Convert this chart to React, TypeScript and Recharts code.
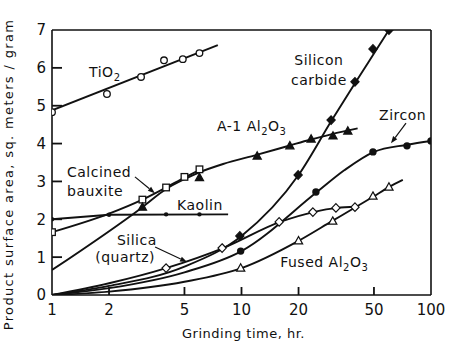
import {
  ComposedChart,
  Line,
  Scatter,
  XAxis,
  YAxis,
  ReferenceLine,
  ReferenceDot,
} from 'recharts';

// grinding time (hr) on a log axis, surface area (m2/g)
const X_TICKS = [1, 2, 5, 10, 20, 50, 100];
const Y_TICKS = [0, 1, 2, 3, 4, 5, 6, 7];

// drawn curves as [t, v]
const tio2Curve = [[1, 4.88], [7.5, 6.6]];
const bauxiteCurve = [[1, 1.66], [2, 2.15], [3, 2.52], [4, 2.84], [5, 3.1], [6, 3.3]];
const a1Curve = [[1, 0.66], [3, 2.32], [4, 2.8], [5, 3.06], [6, 3.24], [8, 3.46], [12, 3.7], [18, 3.95], [23, 4.1], [30, 4.25], [41, 4.4]];
const kaolinCurve = [[1, 2.0], [2, 2.12], [8.5, 2.13]];
const silicaCurve = [[1, 0], [2, 0.31], [4, 0.71], [8, 1.24], [16, 1.93], [24, 2.19], [32, 2.3], [40, 2.33]];
const sicCurve = [[1, 0], [2, 0.24], [5, 0.75], [10, 1.56], [20, 3.17], [30, 4.62], [40, 5.62], [50, 6.38], [60, 7.0]];
const zirconCurve = [[1, 0], [2, 0.18], [5, 0.6], [10, 1.16], [25, 2.72], [35, 3.3], [50, 3.78], [75, 3.97], [100, 4.07]];
const fusedCurve = [[1, 0], [2, 0.09], [5, 0.35], [10, 0.71], [20, 1.43], [30, 1.95], [50, 2.61], [60, 2.85], [71, 3.04]];

// measured points
const tio2Points = [[1, 4.83], [1.95, 5.31], [2.95, 5.76], [3.9, 6.2], [4.9, 6.23], [6, 6.39]];
const bauxitePoints = [[1, 1.66], [3, 2.52], [4, 2.84], [5, 3.12], [6, 3.32]];
const a1Points = [[3, 2.32], [6, 3.1], [12.1, 3.67], [18, 3.94], [23.3, 4.12], [30.4, 4.2], [36.4, 4.33]];
const kaolinPoints = [[1, 2.0], [2, 2.12], [4, 2.13], [6, 2.13]];
const silicaPoints = [[4, 0.71], [7.9, 1.24], [15.8, 1.93], [23.8, 2.19], [31.5, 2.3], [39.7, 2.32]];
const sicPoints = [[9.8, 1.56], [19.9, 3.17], [29.7, 4.62], [39.7, 5.63], [49.4, 6.5], [60, 7.0]];
const zirconPoints = [[9.9, 1.16], [24.7, 2.72], [49.4, 3.78], [74.7, 3.94], [100, 4.07]];
const fusedPoints = [[9.9, 0.71], [20, 1.43], [30.3, 1.95], [49.4, 2.61], [60, 2.85]];

// curve labels: [t, v, text, anchor]  ("_" = subscript)
const notes: [number, number, string, string][] = [
  [1.57, 5.76, 'TiO_2', 'start'],
  [25.6, 6.07, 'Silicon', 'middle'],
  [25.6, 5.55, 'carbide', 'middle'],
  [7.43, 4.33, 'A-1 Al_2O_3', 'start'],
  [53.2, 4.62, 'Zircon', 'start'],
  [1.2, 3.12, 'Calcined', 'start'],
  [1.2, 2.62, 'bauxite', 'start'],
  [4.57, 2.25, 'Kaolin', 'start'],
  [2.2, 1.32, 'Silica', 'start'],
  [1.69, 0.87, '(quartz)', 'start'],
  [16, 0.74, 'Fused Al_2O_3', 'start'],
];

// arrows: from -> to
const arrows = [
  [[2.74, 3.12], [3.49, 2.69]],
  [[3.5, 1.27], [5.16, 0.87]],
  [[73.8, 4.54], [61.5, 4.01]],
];

const INK = '#111';
const FONT = '"DejaVu Sans", sans-serif';

const toPts = (arr: number[][]) => arr.map(([t, v]) => ({ t, v }));

// tick label + short inward tick mark
function YTick(props: any) {
  const { x, y, payload } = props;
  const v = Number(payload.value);
  return (
    <g>
      <text x={x} y={y} dy="0.36em" textAnchor="end" fontSize={15} fontFamily={FONT} fill={INK}>
        {payload.value}
      </text>
      {v > 0 && v < 7 ? <path d={`M${x + 6},${y}h10`} stroke={INK} strokeWidth={1.8} fill="none" /> : null}
    </g>
  );
}

function XTick(props: any) {
  const { x, y, payload } = props;
  const t = Number(payload.value);
  return (
    <g>
      <text x={x} y={y} dy="0.72em" textAnchor="middle" fontSize={15} fontFamily={FONT} fill={INK}>
        {payload.value}
      </text>
      {t > 1 && t < 100 ? <path d={`M${x},${y - 9}v-8`} stroke={INK} strokeWidth={1.8} fill="none" /> : null}
    </g>
  );
}

function SubText({ x, y, text, anchor }: { x: number; y: number; text: string; anchor: string }) {
  const parts = text.split(/(_\d)/).filter(Boolean);
  let shifted = false;
  return (
    <text x={x} y={y} textAnchor={anchor as any} fontSize={14} fontFamily={FONT} fill={INK} letterSpacing={0.5}>
      {parts.map((p, i) => {
        if (p.startsWith('_')) {
          shifted = true;
          return (
            <tspan key={i} dy={4} fontSize={10}>
              {p.slice(1)}
            </tspan>
          );
        }
        const dy = shifted ? -4 : 0;
        shifted = false;
        return (
          <tspan key={i} dy={dy}>
            {p}
          </tspan>
        );
      })}
    </text>
  );
}

function ArrowShape(props: any) {
  const { x1, y1, x2, y2 } = props;
  const a = Math.atan2(y2 - y1, x2 - x1);
  const L = 7;
  const W = 2.6;
  const bx = x2 - L * Math.cos(a);
  const by = y2 - L * Math.sin(a);
  const px = -Math.sin(a) * W;
  const py = Math.cos(a) * W;
  return (
    <g>
      <line x1={x1} y1={y1} x2={bx} y2={by} stroke={INK} strokeWidth={1.2} />
      <polygon points={`${x2},${y2} ${bx + px},${by + py} ${bx - px},${by - py}`} fill={INK} />
    </g>
  );
}

const openCircle = (p: any) => <circle cx={p.cx} cy={p.cy} r={3.3} fill="#fff" stroke={INK} strokeWidth={1.3} />;
const filledCircle = (p: any) => <circle cx={p.cx} cy={p.cy} r={3.7} fill={INK} />;
const smallDot = (p: any) => <circle cx={p.cx} cy={p.cy} r={2.2} fill={INK} />;
const openSquare = (p: any) => (
  <rect x={p.cx - 3.3} y={p.cy - 3.3} width={6.6} height={6.6} fill="#fff" stroke={INK} strokeWidth={1.3} />
);
const tri = (fill: string) => (p: any) => (
  <polygon
    points={`${p.cx},${p.cy - 4.3} ${p.cx + 4.1},${p.cy + 3} ${p.cx - 4.1},${p.cy + 3}`}
    fill={fill}
    stroke={INK}
    strokeWidth={1.2}
  />
);
const diamond = (fill: string) => (p: any) => (
  <polygon
    points={`${p.cx},${p.cy - 4.3} ${p.cx + 4.1},${p.cy} ${p.cx},${p.cy + 4.3} ${p.cx - 4.1},${p.cy}`}
    fill={fill}
    stroke={INK}
    strokeWidth={1.2}
  />
);

const curves: { id: string; data: number[][]; type: 'monotone' | 'linear' }[] = [
  { id: 'tio2', data: tio2Curve, type: 'linear' },
  { id: 'bauxite', data: bauxiteCurve, type: 'monotone' },
  { id: 'a1', data: a1Curve, type: 'monotone' },
  { id: 'kaolin', data: kaolinCurve, type: 'linear' },
  { id: 'silica', data: silicaCurve, type: 'monotone' },
  { id: 'sic', data: sicCurve, type: 'monotone' },
  { id: 'zircon', data: zirconCurve, type: 'monotone' },
  { id: 'fused', data: fusedCurve, type: 'monotone' },
];

const markers = [
  { id: 'tio2', data: tio2Points, shape: openCircle },
  { id: 'bauxite', data: bauxitePoints, shape: openSquare },
  { id: 'a1', data: a1Points, shape: tri(INK) },
  { id: 'kaolin', data: kaolinPoints, shape: smallDot },
  { id: 'silica', data: silicaPoints, shape: diamond('#fff') },
  { id: 'sic', data: sicPoints, shape: diamond(INK) },
  { id: 'zircon', data: zirconPoints, shape: filledCircle },
  { id: 'fused', data: fusedPoints, shape: tri('#fff') },
];

export default function App() {
  return (
    <div style={{ position: 'absolute', left: 0, top: 0, width: 449, height: 344, background: '#fff' }}>
      <ComposedChart width={449} height={344} margin={{ top: 30, right: 18, bottom: 0, left: 0 }}>
        <XAxis
          dataKey="t"
          type="number"
          scale="log"
          domain={[1, 100]}
          ticks={X_TICKS}
          allowDataOverflow
          height={49}
          tickSize={0}
          tickMargin={9}
          tickLine={false}
          axisLine={{ stroke: INK, strokeWidth: 1.6 }}
          tick={<XTick />}
          label={{
            content: (p: any) => {
              const vb = p.viewBox;
              return (
                <text
                  x={vb.x + vb.width / 2 + 2}
                  y={vb.y + 43}
                  textAnchor="middle"
                  fontSize={13}
                  fontFamily={FONT}
                  fill={INK}
                  letterSpacing={0.5}
                >
                  Grinding time, hr.
                </text>
              );
            },
          }}
        />
        <YAxis
          dataKey="v"
          type="number"
          domain={[0, 7]}
          ticks={Y_TICKS}
          allowDataOverflow
          width={52}
          tickSize={0}
          tickMargin={6}
          tickLine={false}
          axisLine={{ stroke: INK, strokeWidth: 1.6 }}
          tick={<YTick />}
          label={{
            content: (p: any) => {
              const vb = p.viewBox;
              const cy = vb.y + vb.height / 2 + 12;
              return (
                <text
                  transform={`translate(${vb.x + 13},${cy}) rotate(-90)`}
                  textAnchor="middle"
                  fontSize={13}
                  fontFamily={FONT}
                  fill={INK}
                  letterSpacing={1.35}
                >
                  Product surface area, sq. meters / gram
                </text>
              );
            },
          }}
        />
        <ReferenceLine y={7} stroke={INK} strokeWidth={1.6} />
        <ReferenceLine x={100} stroke={INK} strokeWidth={1.6} />

        {curves.map((c) => (
          <Line
            key={c.id}
            data={toPts(c.data)}
            dataKey="v"
            type={c.type}
            stroke={INK}
            strokeWidth={1.9}
            dot={false}
            activeDot={false}
            isAnimationActive={false}
          />
        ))}
        {markers.map((m) => (
          <Scatter key={m.id} data={toPts(m.data)} shape={m.shape} isAnimationActive={false} />
        ))}

        {arrows.map(([a, b], i) => (
          <ReferenceLine
            key={`ar${i}`}
            segment={[{ x: a[0], y: a[1] }, { x: b[0], y: b[1] }]}
            shape={<ArrowShape />}
          />
        ))}
        {notes.map(([t, v, text, anchor], i) => (
          <ReferenceDot
            key={`n${i}`}
            x={t}
            y={v}
            r={0}
            shape={(p: any) => <SubText x={p.cx} y={p.cy} text={text} anchor={anchor} />}
          />
        ))}
      </ComposedChart>
    </div>
  );
}
